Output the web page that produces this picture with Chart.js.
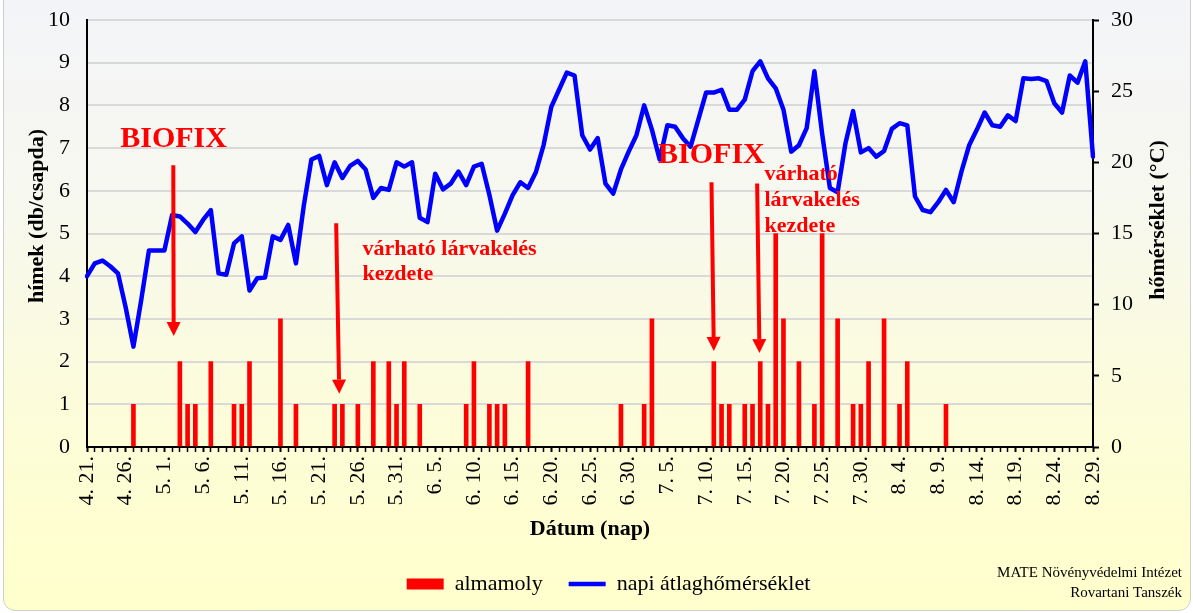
<!DOCTYPE html>
<html>
<head>
<meta charset="utf-8">
<script src="https://cdn.jsdelivr.net/npm/chart.js@4.4.0/dist/chart.umd.min.js"></script>
<style>
  html, body { margin: 0; padding: 0; background: #ffffff; }
  #wrap { position: relative; width: 1193px; height: 613px; overflow: hidden; }
  #bg { position: absolute; left: 3px; right: 2px; top: -14px; bottom: 2px;
        border: 1px solid #cfcfcf; border-radius: 12px;
        background: linear-gradient(to bottom, #f3f4f9 0%, #f7f8ee 35%, #fdfdd6 75%, #ffffcc 100%); }
  canvas { position: absolute; left: 0; top: 0; }
</style>
</head>
<body>
<div id="wrap"><div id="bg"></div><canvas id="c" width="1193" height="613"></canvas></div>
<script>
// ---- categories: daily dates 4.21 - 8.29 ----
const monthRanges = [[4, 21, 30], [5, 1, 31], [6, 1, 30], [7, 1, 31], [8, 1, 29]];
const dateLabels = [];
monthRanges.forEach(([m, d0, d1]) => { for (let d = d0; d <= d1; d++) dateLabels.push(m + '. ' + d + '.'); });

// ---- almamoly (codling moth) catches, males / trap ----
const catchDates = ['4. 27.', '5. 3.', '5. 4.', '5. 5.', '5. 7.', '5. 10.', '5. 11.', '5. 12.', '5. 16.', '5. 18.',
  '5. 23.', '5. 24.', '5. 26.', '5. 28.', '5. 30.', '5. 31.', '6. 1.', '6. 3.', '6. 9.', '6. 10.',
  '6. 12.', '6. 13.', '6. 14.', '6. 17.', '6. 29.', '7. 2.', '7. 3.', '7. 11.', '7. 12.', '7. 13.',
  '7. 15.', '7. 16.', '7. 17.', '7. 18.', '7. 19.', '7. 20.', '7. 22.', '7. 24.', '7. 25.', '7. 27.',
  '7. 29.', '7. 30.', '7. 31.', '8. 2.', '8. 4.', '8. 5.', '8. 10.'];
const catchCounts = [1, 2, 1, 1, 2, 1, 1, 2, 3, 1,
  1, 1, 1, 2, 2, 1, 2, 1, 1, 2,
  1, 1, 1, 2, 1, 1, 3, 2, 1, 1,
  1, 1, 2, 1, 5, 3, 2, 1, 5, 3,
  1, 1, 2, 3, 1, 2, 1];

// ---- napi átlaghőmérséklet (°C) ----
const dailyTemp = [
  12.0, 12.9, 13.1, 12.7, 12.2, 9.8, 7.05, 10.3, 13.8, 13.8,
  13.8, 16.3, 16.2, 15.7, 15.1, 15.95, 16.65, 12.2, 12.1, 14.3,
  14.8, 11.0, 11.85, 11.9, 14.8, 14.55, 15.6, 12.9, 16.9, 20.2,
  20.45, 18.4, 20.0, 18.9, 19.75, 20.1, 19.5, 17.5, 18.2, 18.06,
  20.0, 19.7, 20.0, 16.1, 15.8, 19.2, 18.1, 18.5, 19.35, 18.4,
  19.7, 19.9, 17.7, 15.2, 16.4, 17.7, 18.6, 18.2, 19.3, 21.2,
  23.9, 25.1, 26.3, 26.1, 21.9, 20.9, 21.7, 18.5, 17.8, 19.5,
  20.75, 21.9, 24.0, 22.3, 20.2, 22.6, 22.5, 21.7, 21.1, 23.0,
  24.9, 24.9, 25.1, 23.7, 23.7, 24.4, 26.4, 27.1, 25.9, 25.2,
  23.7, 20.75, 21.2, 22.4, 26.4, 22.0, 18.2, 17.9, 21.3, 23.6,
  20.7, 21.0, 20.4, 20.8, 22.35, 22.75, 22.6, 17.6, 16.65, 16.5,
  17.2, 18.06, 17.2, 19.35, 21.2, 22.3, 23.5, 22.6, 22.5, 23.3,
  22.9, 25.9, 25.85, 25.9, 25.7, 24.15, 23.5, 26.1, 25.6, 27.1,
  20.4];

// ---- tick labels ----
const leftTicks = [0, 1, 2, 3, 4, 5, 6, 7, 8, 9, 10];
const rightTicks = [0, 5, 10, 15, 20, 25, 30];

const catchSeries = dateLabels.map(l => { const k = catchDates.indexOf(l); return k >= 0 ? catchCounts[k] : null; });

// ---- annotations (in data units: x = day index, y = left-axis value) ----
const arrowsDef = [
  { x0: 11.15, y0: 6.6, x1: 11.2, y1: 2.6 },
  { x0: 32.2, y0: 5.24, x1: 32.6, y1: 1.25 },
  { x0: 80.7, y0: 6.2, x1: 81.0, y1: 2.25 },
  { x0: 86.6, y0: 6.17, x1: 86.9, y1: 2.2 }
];
const notesDef = [
  { text: 'BIOFIX', x: 4.3, y: 7.03, size: 30 },
  { text: 'BIOFIX', x: 73.8, y: 6.65, size: 30 },
  { text: 'várható lárvakelés', x: 35.6, y: 4.5, size: 22 },
  { text: 'kezdete', x: 35.6, y: 3.91, size: 22 },
  { text: 'várható', x: 87.55, y: 6.25, size: 22 },
  { text: 'lárvakelés', x: 87.55, y: 5.64, size: 22 },
  { text: 'kezdete', x: 87.55, y: 5.03, size: 22 }
];

const RED = '#ff0000', BLUE = '#0000ff';
const SERIF = "'Liberation Serif', 'Times New Roman', serif";
Chart.defaults.font.family = SERIF;
Chart.defaults.color = '#000';

const decor = {
  id: 'decor',
  afterDraw(chart) {
    const { ctx, scales: { x, y } } = chart;
    const area = chart.chartArea;
    ctx.save();
    // arrows
    arrowsDef.forEach(a => {
      const x0 = x.getPixelForValue(a.x0), y0 = y.getPixelForValue(a.y0);
      const x1 = x.getPixelForValue(a.x1), y1 = y.getPixelForValue(a.y1);
      const ang = Math.atan2(y1 - y0, x1 - x0);
      const head = 14, hw = 7;
      const bx = x1 - head * Math.cos(ang), by = y1 - head * Math.sin(ang);
      ctx.strokeStyle = RED; ctx.lineWidth = 4; ctx.lineCap = 'butt';
      ctx.beginPath(); ctx.moveTo(x0, y0); ctx.lineTo(bx, by); ctx.stroke();
      ctx.fillStyle = RED;
      ctx.beginPath();
      ctx.moveTo(x1, y1);
      ctx.lineTo(bx - hw * Math.sin(ang), by + hw * Math.cos(ang));
      ctx.lineTo(bx + hw * Math.sin(ang), by - hw * Math.cos(ang));
      ctx.closePath(); ctx.fill();
    });
    // notes
    ctx.fillStyle = RED; ctx.textAlign = 'left'; ctx.textBaseline = 'alphabetic';
    notesDef.forEach(n => {
      ctx.font = 'bold ' + n.size + 'px ' + SERIF;
      ctx.fillText(n.text, x.getPixelForValue(n.x), y.getPixelForValue(n.y));
    });
    // axis titles (reading bottom-to-top)
    ctx.fillStyle = '#000'; ctx.font = 'bold 22px ' + SERIF;
    ctx.textAlign = 'center'; ctx.textBaseline = 'middle';
    ctx.save(); ctx.translate(area.left - 50, area.top + 196); ctx.rotate(-Math.PI / 2);
    ctx.fillText('hímek (db/csapda)', 0, 0); ctx.restore();
    ctx.save(); ctx.translate(area.right + 65, area.top + 200); ctx.rotate(-Math.PI / 2);
    ctx.fillText('hőmérséklet (°C)', 0, 0); ctx.restore();
    // footer
    ctx.font = '15px ' + SERIF; ctx.textAlign = 'right'; ctx.textBaseline = 'alphabetic';
    ctx.fillText('MATE Növényvédelmi Intézet', 1182, 577);
    ctx.fillText('Rovartani Tanszék', 1182, 597);
    ctx.restore();
  }
};

new Chart(document.getElementById('c'), {
  type: 'bar',
  data: {
    labels: dateLabels,
    datasets: [
      { type: 'bar', label: 'almamoly', data: catchSeries, yAxisID: 'y',
        backgroundColor: RED, borderColor: RED, borderWidth: 0, barThickness: 4 },
      { type: 'line', label: 'napi átlaghőmérséklet', data: dailyTemp, yAxisID: 'y1',
        borderColor: BLUE, backgroundColor: BLUE, borderWidth: 4.5, pointRadius: 0,
        tension: 0, fill: false, borderJoinStyle: 'round', borderCapStyle: 'round' }
    ]
  },
  options: {
    responsive: false, animation: false, devicePixelRatio: 1,
    layout: { padding: { left: 24, right: 0, top: 20, bottom: 8 } },
    plugins: {
      tooltip: { enabled: false },
      legend: {
        position: 'bottom',
        labels: {
          font: { size: 22, family: SERIF }, color: '#000',
          usePointStyle: true, pointStyleWidth: 37, boxHeight: 11, padding: 26,
          generateLabels(chart) {
            const items = Chart.defaults.plugins.legend.labels.generateLabels(chart);
            items[0].pointStyle = 'rect'; items[0].lineWidth = 0; items[0].fillStyle = RED;
            items[1].pointStyle = 'line'; items[1].lineWidth = 4.5; items[1].strokeStyle = BLUE;
            return items;
          }
        }
      }
    },
    scales: {
      x: {
        type: 'category', offset: false,
        grid: { display: true, drawOnChartArea: false, drawTicks: true, tickLength: 5, offset: false,
                tickColor: '#000', tickWidth: c => (c.index % 5 === 0 ? 2 : 1.5) },
        border: { display: true, color: '#000', width: 2 },
        ticks: { autoSkip: false, maxRotation: 90, minRotation: 90, padding: 4,
                 font: { size: 22, family: SERIF }, color: '#000',
                 callback: function (v, i) { return i % 5 === 0 ? this.getLabelForValue(v) : ''; } },
        title: { display: true, text: 'Dátum (nap)', font: { size: 22, weight: 'bold', family: SERIF },
                 color: '#000', padding: { top: 0, bottom: 4 } },
        afterFit(s) { s.height = 100; }
      },
      y: {
        position: 'left', min: 0, max: 10,
        afterBuildTicks(s) { s.ticks = leftTicks.map(v => ({ value: v })); },
        grid: { color: '#d9d9d9', lineWidth: 2, drawTicks: false },
        border: { display: true, color: '#000', width: 2 },
        ticks: { padding: 17, font: { size: 22, family: SERIF }, color: '#000' },
        afterFit(s) { s.width = 63; s.paddingTop = 0; s.paddingBottom = 0; }
      },
      y1: {
        position: 'right', min: 0, max: 30,
        afterBuildTicks(s) { s.ticks = rightTicks.map(v => ({ value: v })); },
        grid: { drawOnChartArea: false, drawTicks: true, tickLength: 6, tickColor: '#000', tickWidth: 2 },
        border: { display: true, color: '#000', width: 2 },
        ticks: { padding: 12, font: { size: 22, family: SERIF }, color: '#000' },
        afterFit(s) { s.width = 100; s.paddingTop = 0; s.paddingBottom = 0; }
      }
    }
  },
  plugins: [decor]
});
</script>
</body>
</html>
